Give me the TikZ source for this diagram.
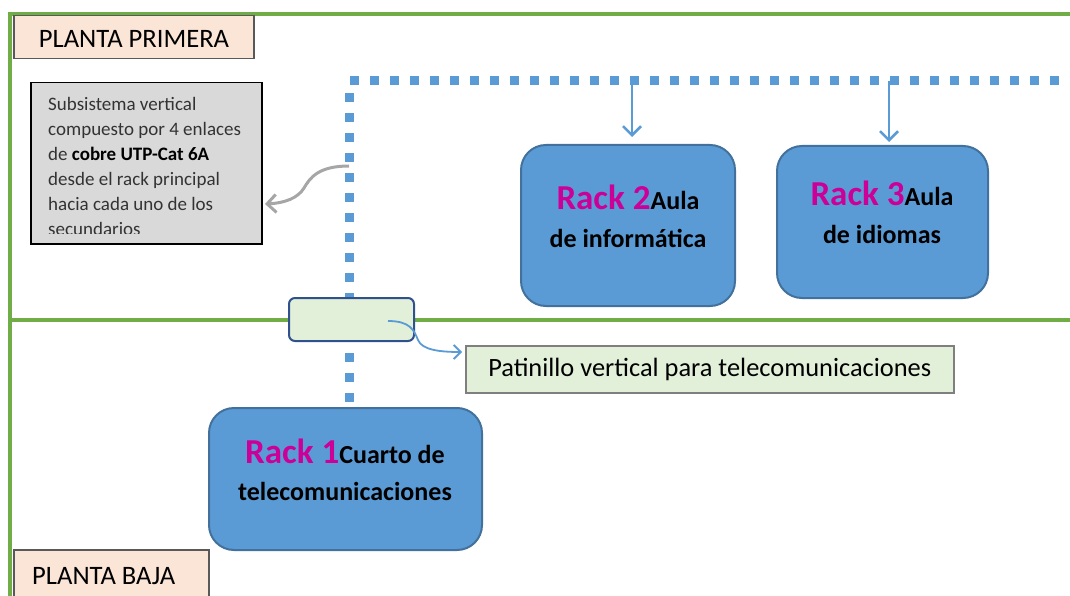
\documentclass[tikz,border=0pt]{standalone}
\usepackage{fontspec}
\setmainfont{Carlito}
\usetikzlibrary{arrows.meta}
\definecolor{grn}{HTML}{70AD47}
\definecolor{peach}{HTML}{FBE5D6}
\definecolor{bordgray}{HTML}{595959}
\definecolor{lgray}{HTML}{D9D9D9}
\definecolor{rackfill}{HTML}{5B9BD5}
\definecolor{rackbord}{HTML}{41719C}
\definecolor{mag}{HTML}{CC0099}
\definecolor{lgreen}{HTML}{E2F0D9}
\definecolor{dblue}{HTML}{2F528F}
\definecolor{arrgray}{HTML}{A6A6A6}
\definecolor{lblgray}{HTML}{7F7F7F}
\begin{document}
\begin{tikzpicture}[x=1pt,y=-1pt,
  greenline/.style={draw=grn, line width=4pt},
  dotline/.style={draw=rackfill, line width=9pt, dash pattern=on 9pt off 11pt},
  rackbox/.style={draw=rackbord, fill=rackfill, line width=2pt, rounded corners=25pt, inner sep=0pt, anchor=north west},
  floorbox/.style={draw=bordgray, fill=peach, line width=1.5pt, inner sep=0pt, anchor=north west},
  floortext/.style={font=\fontsize{26.6}{30}\selectfont, inner sep=0pt},
  racktext/.style={font=\fontsize{26}{30}\selectfont\bfseries, inner sep=0pt, anchor=base},
  bluearrow/.style={draw=rackfill, line width=2.5pt, -{Straight Barb[length=9pt,width=18pt]}},
  thinblue/.style={draw=rackfill, line width=1.8pt, -{Straight Barb[length=7pt,width=14pt]}},
  grayarrow/.style={draw=arrgray, line width=3pt, -{Straight Barb[length=9pt,width=18pt]}}
]
\useasboundingbox (0,0) rectangle (1070,596);
\newcommand{\rk}[1]{{\fontsize{35}{40}\selectfont\color{mag}#1}}
% green floor lines
\draw[greenline] (9,14) -- (1070,14);
\draw[greenline] (10,12) -- (10,596);
\draw[greenline] (9,320) -- (1070,320);
% dotted backbone
\draw[dotline] (350,81) -- (1059,81);
\draw[dotline] (349,93) -- (349,405);
% floor labels
\node[floorbox, minimum width=240pt, minimum height=43pt] (pp) at (13,15) {};
\node[floortext, anchor=base] (ppt) at (134,48) {PLANTA PRIMERA};
\node[floorbox, minimum width=195pt, minimum height=60pt] (pb) at (13,549) {};
\node[floortext, anchor=base west] (pbt) at (32,584) {PLANTA BAJA};
% subsystem note
\node[draw=black, fill=lgray, line width=1.5pt, inner sep=0pt, anchor=north west,
      minimum width=231pt, minimum height=161pt] (sub) at (30,82) {};
\begin{scope}
\clip (32,84) rectangle (259,233);
\node[anchor=base west, inner sep=0pt, text width=215pt, align=flush left,
      font=\fontsize{19}{25}\selectfont, text=black!80] (subt) at (48,111)
  {Subsistema vertical\\compuesto por 4 enlaces\\de \textbf{\color{black}cobre UTP-Cat 6A}\\desde el rack principal\\hacia cada uno de los\\secundarios};
\end{scope}
% racks
\node[rackbox, minimum width=273pt, minimum height=142pt] (r1) at (208,407) {};
\node[rackbox, minimum width=214pt, minimum height=161pt] (r2) at (520,144) {};
\node[rackbox, minimum width=211pt, minimum height=152pt] (r3) at (776,145) {};
\node[racktext] (r1a) at (345,463) {\rk{Rack 1}Cuarto de};
\node[racktext] (r1b) at (345,500) {telecomunicaciones};
\node[racktext] (r2a) at (628,209) {\rk{Rack 2}Aula};
\node[racktext] (r2b) at (628,247) {de informática};
\node[racktext] (r3a) at (882,205) {\rk{Rack 3}Aula};
\node[racktext] (r3b) at (882,243) {de idiomas};
% patinillo
\node[draw=dblue, fill=lgreen, line width=2pt, rounded corners=6pt, inner sep=0pt, anchor=north west,
      minimum width=125pt, minimum height=43pt] (pat) at (288,297) {};
\node[draw=lblgray, fill=lgreen, line width=1.5pt, inner sep=0pt, anchor=north west,
      minimum width=488pt, minimum height=47pt, font=\fontsize{26.4}{30}\selectfont] (patl) at (465,345)
  {Patinillo vertical para telecomunicaciones};
% connectors
\coordinate (t2) at (632,81);
\coordinate (t3) at (889,81);
\draw[bluearrow, shorten >=7pt] (t2) -- (t2 |- r2.north);
\draw[bluearrow, shorten >=3pt] (t3) -- (t3 |- r3.north);
\coordinate (bs) at (388,321);
\coordinate (be) at (462,352);
\draw[thinblue] (bs) .. controls (410,321) and (414,330) .. (418,340) .. controls (422,350) and (440,352) .. (be);
\coordinate (gs) at (349,166);
\coordinate (ge) at (265,204);
\draw[grayarrow] (gs) .. controls (318,166) and (310,178) .. (304,188) .. controls (298,198) and (285,203) .. (ge);
\end{tikzpicture}
\end{document}
